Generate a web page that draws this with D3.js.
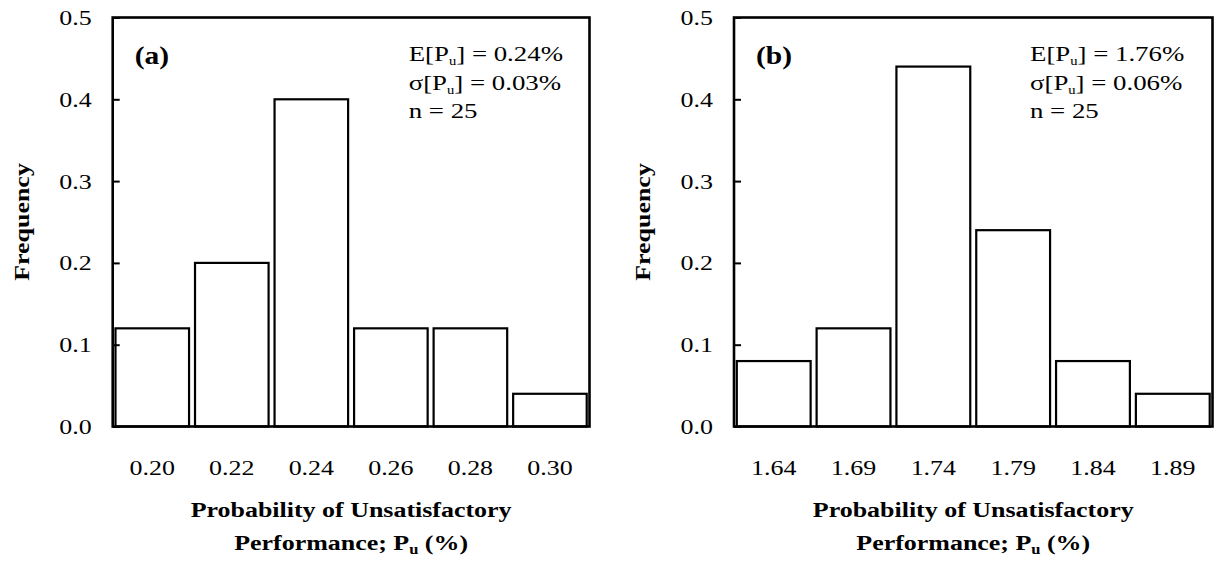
<!DOCTYPE html>
<html>
<head>
<meta charset="utf-8">
<script src="https://cdn.jsdelivr.net/npm/d3@7"></script>
<style>
  html, body { margin: 0; padding: 0; background: #fff; }
  svg { display: block; }
  text { font-family: "Liberation Serif", "Times New Roman", serif; fill: #000; }
</style>
</head>
<body>
<svg id="chart" width="1218" height="561"></svg>
<script>
// ---------- data ----------
const categoriesA = ["0.20", "0.22", "0.24", "0.26", "0.28", "0.30"];
const valuesA     = [0.12, 0.20, 0.40, 0.12, 0.12, 0.04];
const categoriesB = ["1.64", "1.69", "1.74", "1.79", "1.84", "1.89"];
const valuesB     = [0.08, 0.12, 0.44, 0.24, 0.08, 0.04];
const yTicks      = [0.0, 0.1, 0.2, 0.3, 0.4, 0.5];
const panelLabels = ["(a)", "(b)"];
const meanA = "0.24%", sdA = "0.03%";
const meanB = "1.76%", sdB = "0.06%";
const sampleSize = "25";
const yTitle = "Frequency";
const xTitle1 = "Probability of Unsatisfactory";
const xTitle2Pre = "Performance; P", xTitle2Sub = "u", xTitle2Post = " (%)";

// ---------- layout ----------
const SX = 1.18;          // horizontal stretch of the scanned type
const plotTop = 17.5, plotBottom = 426.5;
const panels = [
  { left: 112.7, right: 589.5, cats: categoriesA, vals: valuesA, label: panelLabels[0], mean: meanA, sd: sdA, yTitleX: 22 },
  { left: 734,   right: 1212.5, cats: categoriesB, vals: valuesB, label: panelLabels[1], mean: meanB, sd: sdB, yTitleX: 643 }
];

const svg = d3.select("#chart");
svg.append("rect").attr("width", 1218).attr("height", 561).attr("fill", "#fff");

function stretchedText(g, x, y, anchor, size, weight, sx) {
  const gg = g.append("g").attr("transform", `translate(${x},${y}) scale(${sx || SX},1)`);
  return gg.append("text")
    .attr("text-anchor", anchor)
    .attr("font-size", size)
    .attr("font-weight", weight || "normal");
}

panels.forEach(p => {
  const g = svg.append("g");
  const x = d3.scaleBand().domain(p.cats).range([p.left, p.right])
    .paddingInner(0.075).paddingOuter(0.035);
  const y = d3.scaleLinear().domain([0, 0.5]).range([plotBottom, plotTop]);

  // bars
  g.selectAll("rect.bar").data(p.cats.map((c, i) => ({ c, v: p.vals[i] })))
    .join("rect").attr("class", "bar")
    .attr("x", d => x(d.c))
    .attr("width", x.bandwidth())
    .attr("y", d => y(d.v))
    .attr("height", d => y(0) - y(d.v))
    .attr("fill", "#fff").attr("stroke", "#000").attr("stroke-width", 2.2);

  // frame
  g.append("rect")
    .attr("x", p.left).attr("y", plotTop)
    .attr("width", p.right - p.left).attr("height", plotBottom - plotTop)
    .attr("fill", "none").attr("stroke", "#000").attr("stroke-width", 2.6);

  // y axis (ticks inward)
  const yAxis = d3.axisLeft(y).tickValues(yTicks).tickFormat(d3.format(".1f"))
    .tickSizeInner(-7).tickSizeOuter(0).tickPadding(21);
  const ya = g.append("g").attr("transform", `translate(${p.left},0)`).call(yAxis);
  ya.select(".domain").remove();
  ya.selectAll(".tick line").attr("stroke", "#000").attr("stroke-width", 2);
  ya.selectAll(".tick text")
    .attr("font-size", 22).attr("font-family", "Liberation Serif").attr("fill", "#000")
    .attr("x", -21 / SX)
    .attr("transform", `scale(${SX},1)`);

  // x axis labels
  const xAxis = d3.axisBottom(x).tickSize(0).tickPadding(33);
  const xa = g.append("g").attr("transform", `translate(0,${plotBottom})`).call(xAxis);
  xa.select(".domain").remove();
  xa.selectAll(".tick text")
    .attr("font-size", 22).attr("font-family", "Liberation Serif").attr("fill", "#000")
    .attr("transform", `scale(${SX},1)`);

  // y title
  const yt = g.append("g").attr("transform", `translate(${p.yTitleX + 7},${(plotTop + plotBottom) / 2}) rotate(-90) scale(${SX},1)`);
  yt.append("text").attr("text-anchor", "middle").attr("font-size", 22).attr("font-weight", "bold").text(yTitle);

  // x title
  const cx = (p.left + p.right) / 2;
  stretchedText(g, cx, 517, "middle", 22, "bold").text(xTitle1);
  const t2 = stretchedText(g, cx, 550, "middle", 22, "bold");
  t2.append("tspan").text(xTitle2Pre);
  t2.append("tspan").attr("font-size", 14).attr("dy", 4).text(xTitle2Sub);
  t2.append("tspan").attr("dy", -4).text(xTitle2Post);

  // panel label
  stretchedText(g, p.left + 22, 64, "start", 25, "bold").text(p.label);

  // stats
  const sx0 = p.left + 296;
  const st = 1.22;
  const l1 = stretchedText(g, sx0, 61, "start", 22, "normal", st);
  l1.append("tspan").text("E[P");
  l1.append("tspan").attr("font-size", 12).attr("dy", 4).text("u");
  l1.append("tspan").attr("dy", -4).text("] = " + p.mean);
  const l2 = stretchedText(g, sx0, 90, "start", 22, "normal", st);
  l2.append("tspan").text("\u03C3[P");
  l2.append("tspan").attr("font-size", 12).attr("dy", 4).text("u");
  l2.append("tspan").attr("dy", -4).text("] = " + p.sd);
  stretchedText(g, sx0, 118, "start", 22, "normal", st).text("n = " + sampleSize);
});
</script>
</body>
</html>
